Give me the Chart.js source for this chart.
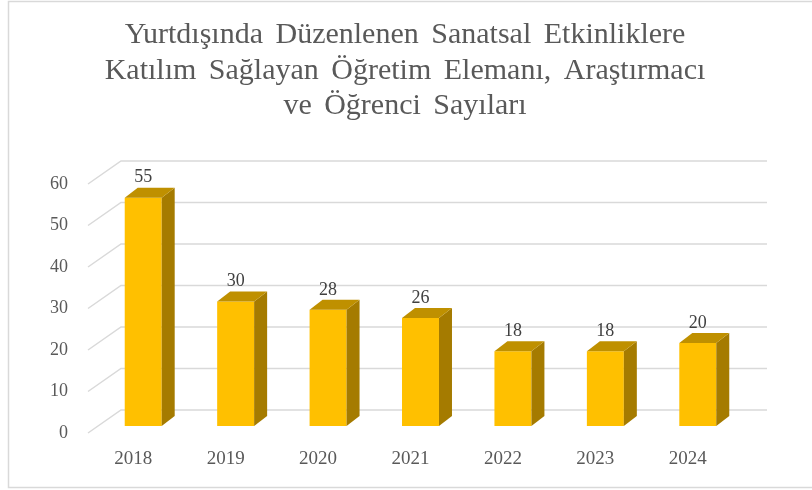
<!DOCTYPE html>
<html lang="tr">
  <head>
    <meta charset="utf-8" />
    <title>Yurtdışında Düzenlenen Sanatsal Etkinlikler</title>
    <script src="https://cdn.jsdelivr.net/npm/chart.js"></script>
    <style>
      html, body { margin: 0; padding: 0; background: #fff; }
      #wrap { position: relative; width: 812px; height: 490px; }
    </style>
  </head>
  <body>
    <div id="wrap">
      <canvas id="chart" width="812" height="490"></canvas>
    </div>

<script>
  // chart data
  const years = ['2018', '2019', '2020', '2021', '2022', '2023', '2024'];
  const counts = [55, 30, 28, 26, 18, 18, 20];
  const yTicks = [0, 10, 20, 30, 40, 50, 60];
  const titleLines = [
    'Yurtdışında Düzenlenen Sanatsal Etkinliklere',
    'Katılım Sağlayan Öğretim Elemanı, Araştırmacı',
    've Öğrenci Sayıları'
  ];

  const serif = '"Liberation Serif", "Times New Roman", serif';

  // fake 3D: side/top faces of the bars, back wall grid, frame, title, value labels
  const pseudo3d = {
    id: 'pseudo3d',
    beforeDraw(chart) {
      const ctx = chart.ctx;
      ctx.save();
      ctx.strokeStyle = '#d9d9d9';
      ctx.lineWidth = 1.5;
      ctx.strokeRect(8.5, 1.5, 900, 486);
      ctx.restore();
    },
    beforeDatasetsDraw(chart) {
      const ctx = chart.ctx;
      const area = chart.chartArea;
      const y = chart.scales.y;
      ctx.save();
      ctx.strokeStyle = '#d9d9d9';
      ctx.lineWidth = 1.5;
      yTicks.forEach(v => {
        const py = y.getPixelForValue(v);
        ctx.beginPath();
        ctx.moveTo(area.left - 9, py + 7);
        ctx.lineTo(area.left + 24, py - 16);
        ctx.lineTo(area.right + 23, py - 16);
        ctx.stroke();
      });
      ctx.restore();
    },
    afterDatasetsDraw(chart) {
      const ctx = chart.ctx;
      const dx = 13, dy = -10;
      const bars = chart.getDatasetMeta(0).data;
      ctx.save();
      bars.forEach((bar, i) => {
        const l = bar.x - bar.width / 2;
        const r = bar.x + bar.width / 2;
        // side face
        ctx.fillStyle = '#a57b00';
        ctx.beginPath();
        ctx.moveTo(r, bar.y);
        ctx.lineTo(r + dx, bar.y + dy);
        ctx.lineTo(r + dx, bar.base + dy);
        ctx.lineTo(r, bar.base);
        ctx.closePath();
        ctx.fill();
        // top face
        ctx.fillStyle = '#bf9000';
        ctx.beginPath();
        ctx.moveTo(l, bar.y);
        ctx.lineTo(l + dx, bar.y + dy);
        ctx.lineTo(r + dx, bar.y + dy);
        ctx.lineTo(r, bar.y);
        ctx.closePath();
        ctx.fill();
        // value label
        ctx.fillStyle = '#404040';
        ctx.font = '18px ' + serif;
        ctx.textAlign = 'center';
        ctx.textBaseline = 'middle';
        ctx.fillText(String(counts[i]), bar.x, bar.y - 20);
      });
      ctx.restore();
    },
    afterDraw(chart) {
      // title, words spaced a bit wider than a normal space
      const ctx = chart.ctx;
      const gap = 12.5;
      const baselines = [43, 78.5, 114];
      ctx.save();
      ctx.fillStyle = '#595959';
      ctx.font = '30px ' + serif;
      ctx.textAlign = 'left';
      ctx.textBaseline = 'alphabetic';
      titleLines.forEach((line, i) => {
        const words = line.split(' ');
        const widths = words.map(w => ctx.measureText(w).width);
        const total = widths.reduce((a, b) => a + b, 0) + gap * (words.length - 1);
        let x = 405 - total / 2;
        words.forEach((w, j) => {
          ctx.fillText(w, x, baselines[i]);
          x += widths[j] + gap;
        });
      });
      ctx.restore();
    }
  };

  new Chart(document.getElementById('chart'), {
    type: 'bar',
    data: {
      labels: years,
      datasets: [{
        data: counts,
        backgroundColor: '#ffc000',
        borderWidth: 0,
        barPercentage: 0.4,
        categoryPercentage: 1
      }]
    },
    options: {
      responsive: false,
      animation: false,
      layout: { padding: { top: 177, right: 68, left: 0, bottom: 0 } },
      plugins: {
        legend: { display: false },
        title: { display: false },
        tooltip: { enabled: false }
      },
      scales: {
        x: {
          grid: { display: false },
          border: { display: false },
          ticks: {
            color: '#595959',
            font: { family: serif, size: 19 },
            padding: 14,
            labelOffset: -10
          },
          afterFit(scale) { scale.height = 64; }
        },
        y: {
          min: 0,
          max: 60,
          grid: { display: false },
          border: { display: false },
          ticks: {
            stepSize: 10,
            color: '#595959',
            font: { family: serif, size: 18 },
            padding: 21,
            labelOffset: 7
          },
          afterFit(scale) { scale.width = 97; }
        }
      }
    },
    plugins: [pseudo3d]
  });
</script>
  </body>
</html>
